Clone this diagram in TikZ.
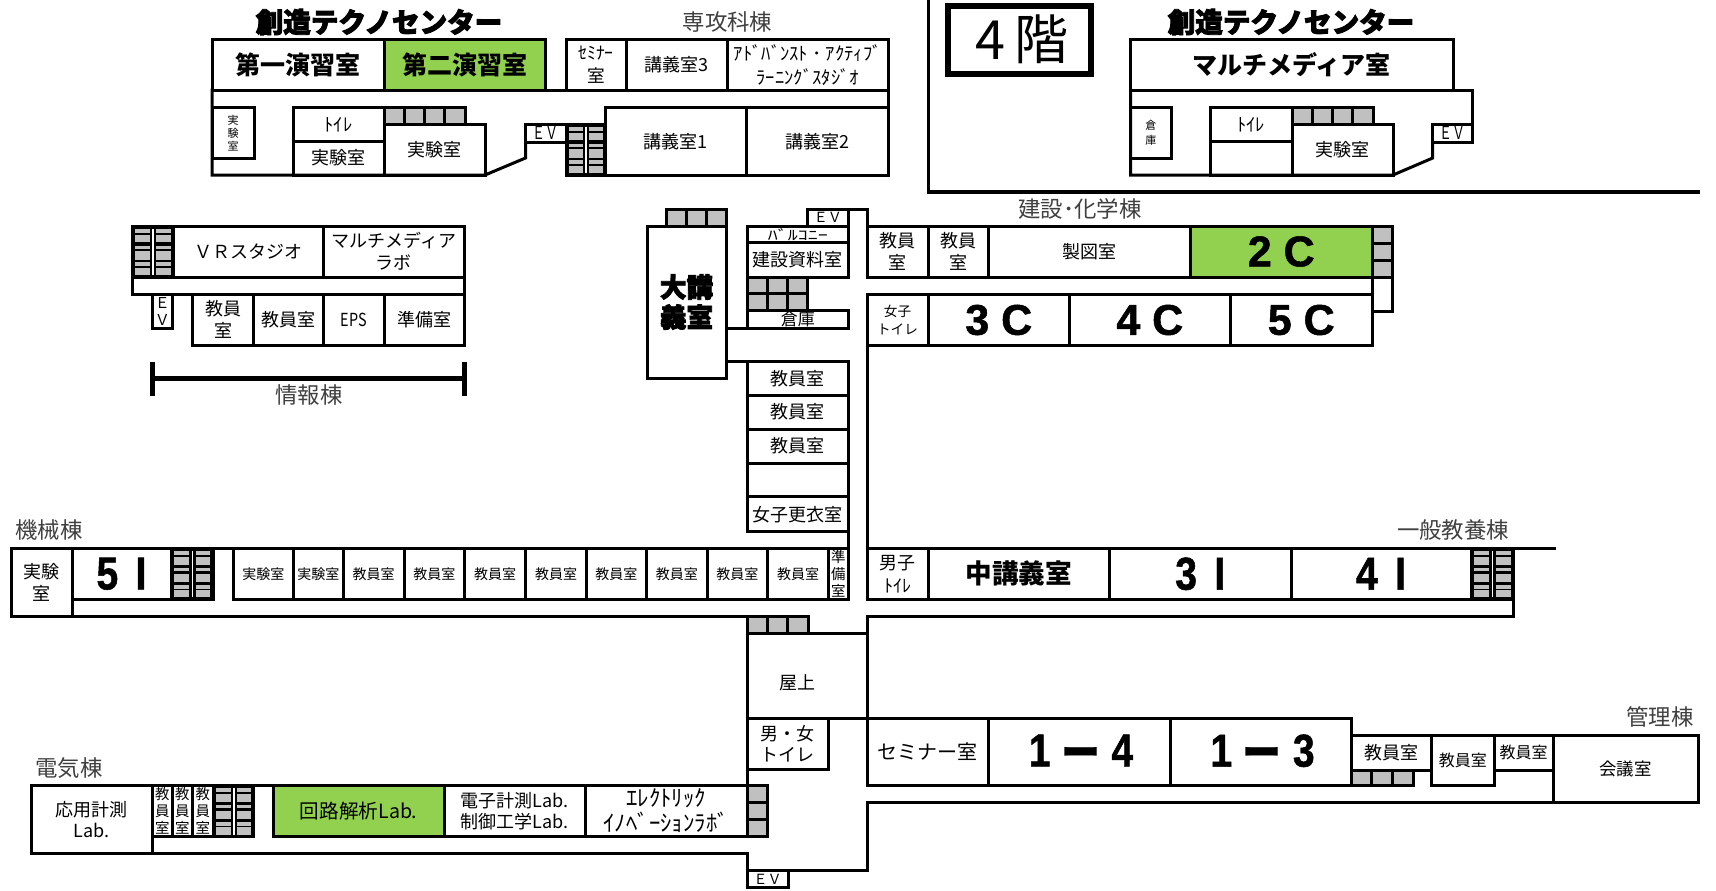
\documentclass[tikz,border=0pt]{standalone}
\usepackage{fontspec}
\setmainfont{Noto Sans CJK JP}
\setsansfont{Liberation Sans}[BoldFeatures={FakeBold=1.2}]
\newfontfamily\heavyfont{Noto Sans CJK JP}[BoldFeatures={FakeBold=3}]
\newcounter{rmc}
\definecolor{roomgreen}{HTML}{92D050}
\definecolor{stairgray}{HTML}{C0C0C0}
\definecolor{wingtext}{HTML}{404040}
\tikzset{
  wall/.style={line width=1.5pt,line cap=rect,line join=miter,draw=black},
  lbl/.style={inner sep=0pt,align=center,text=black},
  fs/.style n args={2}{font=\fontsize{#1}{#2}\selectfont},
  norm/.style={fs={9}{11}},
  wing/.style={inner sep=0pt,text=wingtext,fs={11.2}{13}},
  heavytitle/.style={inner sep=0pt,font=\heavyfont\bfseries\fontsize{13.8}{16}\selectfont},
  boldroom/.style={font=\bfseries\fontsize{12.5}{15}\selectfont},
  bignum/.style={font=\sffamily\bfseries\fontsize{21.5}{24}\selectfont},
  tallnum/.style={font=\sffamily\bfseries\fontsize{23}{26}\selectfont},
  vert/.style={fs={7.2}{8.7}},
  small/.style={fs={7}{9}}
}
\newcommand\room[6][norm]{\stepcounter{rmc}\draw[wall] (#2,#3) rectangle node[lbl,#1] (r\arabic{rmc}) {#6} (#4,#5);}
\newcommand\groom[6][norm]{\stepcounter{rmc}\draw[wall,fill=roomgreen] (#2,#3) rectangle node[lbl,#1] (r\arabic{rmc}) {#6} (#4,#5);}
\newcommand\tall[1]{\scalebox{.85}[1]{#1}}
\newcommand\longbar{\raisebox{-1.5pt}{\rmfamily ー}}
% stairs: x1 y1 x2 y2 cols rows
\newcommand\stair[6]{%
  \draw[wall,fill=stairgray] (#1,#2) rectangle (#3,#4);
  \foreach \i in {1,...,#5}{\ifnum\i<#5\relax\draw[wall,line cap=butt] ({#1+(#3-#1)*\i/#5},#2) -- ({#1+(#3-#1)*\i/#5},#4);\fi}
  \foreach \i in {1,...,#6}{\ifnum\i<#6\relax\draw[wall,line cap=butt] (#1,{#2+(#4-#2)*\i/#6}) -- (#3,{#2+(#4-#2)*\i/#6});\fi}
}
% double stairs: two columns of alternating narrow and wide treads
\newcommand\dstair[4]{%
  \fill[black] (#1,#2) rectangle (#3,#4);
  \foreach \a/\b in {.05/.13,.17/.32,.387/.45,.497/.665,.71/.79,.82/.96}{
    \fill[stairgray] ({#1+(#3-#1)*.07},{#2+(#4-#2)*\a}) rectangle ({#1+(#3-#1)*.435},{#2+(#4-#2)*\b});
    \fill[stairgray] ({#1+(#3-#1)*.59},{#2+(#4-#2)*\a}) rectangle ({#1+(#3-#1)*.94},{#2+(#4-#2)*\b});
  }
  \fill[white] ({#1+(#3-#1)*.49},{#2+(#4-#2)*.05}) rectangle ({#1+(#3-#1)*.53},{#2+(#4-#2)*.96});
  \draw[wall] (#1,#2) rectangle (#3,#4);
}
\begin{document}
\begin{tikzpicture}[x=0.5pt,y=-0.5pt]
\useasboundingbox (0,0) rectangle (1716,890);
\fill[white] (0,0) rectangle (1716,890);

% ---- wing titles
\node[heavytitle] (t1) at (379,22) {創造テクノセンター};
\node[heavytitle] (t2) at (1291,22) {創造テクノセンター};
\node[wing] (w1) at (727.5,22) {専攻科棟};
\node[wing] (w2) at (1080,209) {建設･化学棟};
\node[wing] (w3) at (309,395) {情報棟};
\node[wing] (w4) at (49,530) {機械棟};
\node[wing] (w5) at (1453,530) {一般教養棟};
\node[wing] (w6) at (69,768) {電気棟};
\node[wing] (w7) at (1660,717) {管理棟};

% ---- top left block
\room[boldroom]{212}{39.3}{384}{90}{第一演習室}
\groom[boldroom]{384}{39.3}{545}{90}{第二演習室}
\room[fs={8.8}{11.5}]{566}{39.3}{626}{90}{ｾﾐﾅｰ\\室}
\room{626}{39.3}{727}{90}{講義室3}
\room[fs={9.3}{12}]{727}{39.3}{888.5}{90}{ｱﾄﾞﾊﾞﾝｽﾄ ･ ｱｸﾃｨﾌﾞ\\ﾗｰﾆﾝｸﾞｽﾀｼﾞｵ}
\draw[wall] (212,90) -- (888.5,90);
\draw[wall] (212,90) -- (212,175) -- (485,175) -- (525.5,158) -- (525.5,142);
\draw[wall] (888.5,90) -- (888.5,107.7);
\room[fs={5.5}{6.5}]{212}{107.7}{254}{158}{実\\験\\室}
\room[fs={9.2}{11}]{293}{107.7}{384}{141}{ﾄｲﾚ}
\room{293}{141}{384}{175}{実験室}
\stair{384}{107.7}{465}{124}{4}{1}
\room{384}{124}{485}{175}{実験室}
\room[fs={9}{11}]{525.5}{124}{566}{142}{\scalebox{.72}[1]{ＥＶ}}
\dstair{566}{124}{605}{175}
\room{605}{107.7}{746}{175}{講義室1}
\room{746}{107.7}{888.5}{175}{講義室2}

% ---- 4F frame
\draw[wall,line width=1.8pt] (928.6,0) -- (928.6,192) -- (1698,192);
\stepcounter{rmc}
\draw[wall,line width=3pt] (947.5,5.7) rectangle node[lbl,fs={27}{30},xshift=1.5pt] (floor) {4\,階} (1091,73.7);

% ---- top right block
\room[boldroom]{1130.7}{39.3}{1453}{90}{マルチメディア室}
\draw[wall] (1453,90) -- (1472,90) -- (1472,124);
\draw[wall] (1130.7,90) -- (1130.7,175) -- (1393,175) -- (1432.7,158) -- (1432.7,142);
\room[fs={5.5}{7.5}]{1130.7}{107.7}{1171}{158}{倉\\庫}
\room[fs={9.2}{11}]{1210}{107.7}{1292}{141}{ﾄｲﾚ}
\draw[wall] (1210,141) rectangle (1292,175);
\stair{1292}{107.7}{1373}{124}{4}{1}
\room{1292}{124}{1393}{175}{実験室}
\room[fs={9}{11}]{1432.7}{124}{1472}{142}{\scalebox{.72}[1]{ＥＶ}}

% ---- information wing
\dstair{132}{226}{173}{277}
\room{173}{226}{323.6}{277}{ＶＲスタジオ}
\room{323.6}{226}{464}{277}{マルチメディア\\ラボ}
\draw[wall] (132,277) -- (132,294.3) -- (464,294.3) -- (464,277);
\room[fs={7.5}{8.5}]{152.5}{294.3}{172}{328}{Ｅ\\Ｖ}
\room{192.7}{294.3}{253.3}{345}{教員\\室}
\room{253.3}{294.3}{323.6}{345}{教員室}
\room{323.6}{294.3}{384}{345}{\scalebox{.8}[1]{EPS}}
\room{384}{294.3}{464}{345}{準備室}
\coordinate (dl) at (152.5,378.3);
\coordinate (dr) at (464,378.3);
\draw[line width=2.5pt] (dl) -- (dr);
\draw[line width=2.5pt] (152.5,361.7) -- (152.5,395.7);
\draw[line width=2.5pt] (464,361.7) -- (464,395.7);

% ---- centre
\stair{666}{209}{726}{226}{3}{1}
\room[font=\heavyfont\bfseries\fontsize{13.3}{15}\selectfont]{647}{226}{726}{378}{大講\\義室}
\draw[wall] (726,328.3) -- (747,328.3);
\draw[wall] (726,361.7) -- (747,361.7);
\room[fs={7}{9}]{807}{209}{848.5}{226}{ＥＶ}
\draw[wall] (848.5,209) -- (867,209) -- (867,226);
\room[fs={10}{10}]{747}{226}{848.5}{242.7}{\scalebox{1}[.7]{ﾊﾞﾙｺﾆｰ}}
\room{747}{242.7}{848.5}{277}{建設資料室}
\stair{747}{277}{807}{310.7}{3}{2}
\room[fs={8.5}{10}]{747}{310.7}{848.5}{328.3}{倉庫}
\room{747}{361.7}{848.5}{395}{教員室}
\room{747}{395}{848.5}{429}{教員室}
\room{747}{429}{848.5}{463.3}{教員室}
\draw[wall] (747,463.3) rectangle (848.5,496.7);
\room{747}{496.7}{848.5}{531.7}{女子更衣室}
\draw[wall] (848.5,531.7) -- (848.5,548.3);
\draw[wall] (867,345.7) -- (867,548.3);

% ---- construction / chemistry wing
\room{867}{226}{928}{277}{教員\\室}
\room{928}{226}{988.6}{277}{教員\\室}
\room{988.6}{226}{1190}{277}{製図室}
\groom[bignum]{1190}{226}{1372.5}{277}{2 C}
\stair{1372.5}{226}{1392}{277}{1}{3}
\draw[wall] (1372.5,277) -- (1372.5,294.3);
\draw[wall] (1392,277) -- (1392,311) -- (1372.5,311);
\room[fs={6.8}{9}]{867}{294.3}{928}{345.7}{女子\\トイレ}
\room[bignum]{928}{294.3}{1069.6}{345.7}{3 C}
\room[bignum]{1069.6}{294.3}{1230}{345.7}{4 C}
\room[bignum]{1230}{294.3}{1372.5}{345.7}{5 C}

% ---- mechanical wing
\room[fs={9}{11}]{11}{548.3}{72}{616.7}{実験\\室}
\room[tallnum]{72}{548.3}{171}{599.3}{\tall{5\ \,I}}
\dstair{171}{548.3}{213}{599.3}
\draw[wall] (213,548.3) -- (233,548.3);
\room[small]{233}{548.3}{293.5}{599.3}{実験室}
\room[small]{293.5}{548.3}{343.4}{599.3}{実験室}
\room[small]{343.4}{548.3}{404}{599.3}{教員室}
\room[small]{404}{548.3}{464.6}{599.3}{教員室}
\room[small]{464.6}{548.3}{525.8}{599.3}{教員室}
\room[small]{525.8}{548.3}{586.4}{599.3}{教員室}
\room[small]{586.4}{548.3}{646.5}{599.3}{教員室}
\room[small]{646.5}{548.3}{707}{599.3}{教員室}
\room[small]{707}{548.3}{767.7}{599.3}{教員室}
\room[small]{767.7}{548.3}{828.3}{599.3}{教員室}
\room[vert]{828.3}{548.3}{848.5}{599.3}{準\\備\\室}
\draw[wall] (72,616.7) -- (747,616.7) -- (747,633);
\stair{747}{616.7}{808}{633}{3}{1}

% ---- general education wing
\room[fs={9}{11.5}]{867}{548.3}{928}{599.3}{男子\\ﾄｲﾚ}
\room[font=\bfseries\fontsize{13.3}{15}\selectfont]{928}{548.3}{1109.5}{599.3}{中講義室}
\room[tallnum]{1109.5}{548.3}{1291}{599.3}{\tall{3\ \,I}}
\room[tallnum]{1291}{548.3}{1471}{599.3}{\tall{4\ \,I}}
\dstair{1471}{548.3}{1513}{599.3}
\draw[wall] (1513,548.3) -- (1554,548.3);
\draw[wall] (1513,599.3) -- (1513,616.7) -- (867,616.7) -- (867,633);

% ---- roof and toilets
\room[fs={9}{10},xshift=-5pt,yshift=-3.7pt]{747}{633}{867}{718.3}{屋上}
\room[fs={9}{10.5}]{747}{718.3}{828}{769.3}{男・女\\トイレ}
\draw[wall] (747,769.3) -- (747,785);

% ---- electrical wing
\room[fs={9}{10.5}]{31}{785}{152.6}{853.3}{応用計測\\Lab.}
\room[vert]{152.6}{785}{172}{836.7}{教\\員\\室}
\room[vert]{172}{785}{192.5}{836.7}{教\\員\\室}
\room[vert]{192.5}{785}{213}{836.7}{教\\員\\室}
\dstair{213}{785}{253.6}{836.7}
\draw[wall] (253.6,785) -- (273,785);
\groom[fs={9.8}{11}]{273}{785}{444.4}{836.7}{回路解析Lab.}
\room[fs={9}{10.5}]{444.4}{785}{585.3}{836.7}{電子計測Lab.\\制御工学Lab.}
\room[fs={11.4}{12.5}]{585.3}{785}{747}{836.7}{ｴﾚｸﾄﾘｯｸ\\ｲﾉﾍﾞｰｼｮﾝﾗﾎﾞ}
\stair{747}{785}{767}{836.7}{1}{3}
\draw[wall] (152.6,853.3) -- (747,853.3) -- (747,870) -- (867,870) -- (867,802) -- (1698,802);
\room[fs={7}{9}]{747}{870}{788.4}{887.7}{ＥＶ}

% ---- lower right
\room[fs={10}{11}]{867}{718.3}{988}{785.7}{セミナー室}
\room[tallnum,xshift=1pt]{988}{718.3}{1170}{785.7}{\tall{1 \longbar{} 4}}
\room[tallnum,xshift=1pt]{1170}{718.3}{1351}{785.7}{\tall{1 \longbar{} 3}}
\room{1351}{735}{1431.5}{770}{教員室}
\stair{1351}{770}{1413}{785.7}{3}{1}
\room[fs={8}{10}]{1431.5}{735}{1494}{785.7}{教員室}
\room[fs={8}{10}]{1494}{735}{1553}{770}{教員室}
\room[fs={8.7}{10}]{1553}{735}{1698}{802}{会議室}
\end{tikzpicture}
\end{document}
